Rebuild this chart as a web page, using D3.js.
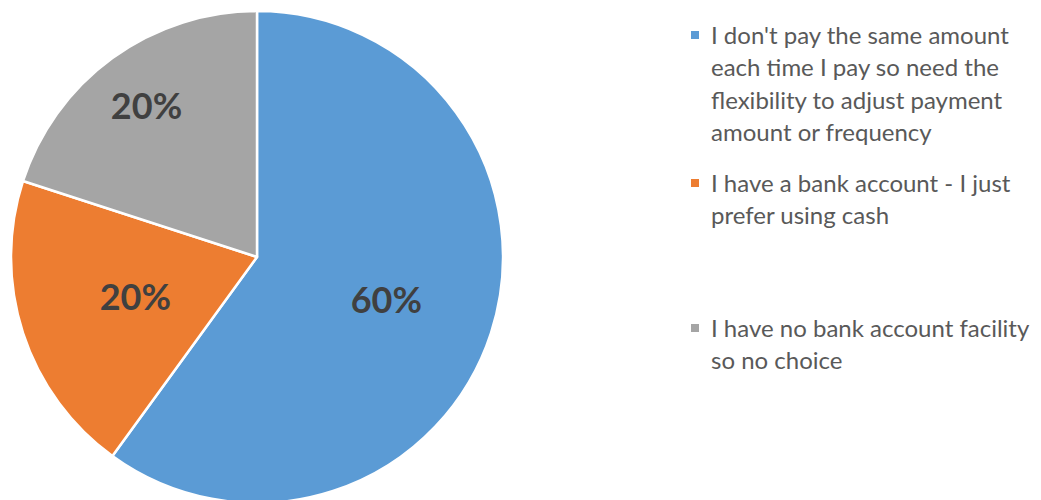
<!DOCTYPE html>
<html>
<head>
<meta charset="utf-8">
<script src="https://cdn.jsdelivr.net/npm/d3@7"></script>
<style>
  body { margin: 0; background: #fff; }
  svg { display: block; }
</style>
</head>
<body>
<div id="chart"></div>
<script>
// data
var categories = [
  ["I don't pay the same amount", "each time I pay so need the", "flexibility to adjust payment", "amount or frequency"],
  ["I have a bank account - I just", "prefer using cash"],
  ["I have no bank account facility", "so no choice"]
];
var shares = [60, 20, 20];
var sliceColors = ["#5b9bd5", "#ed7d31", "#a5a5a5"];

// layout
var w = 1041, h = 500;
var cx = 257, cy = 257, radius = 246;
// Excel's best-fit label distances from centre, per slice
var labelDist = [136, 128, 188];
var legendX = 691, legendTop = [35, 183, 328], lineH = 32.5;

var svg = d3.select("#chart").append("svg")
  .attr("width", w)
  .attr("height", h);

var pie = d3.pie().sort(null).value(function(d){ return d; });
var arcs = pie(shares);

var arc = d3.arc().innerRadius(0).outerRadius(radius);

var g = svg.append("g").attr("transform", "translate(" + cx + "," + cy + ")");

g.selectAll("path")
  .data(arcs)
  .enter().append("path")
  .attr("d", arc)
  .attr("fill", function(d, i){ return sliceColors[i]; })
  .attr("stroke", "#fff")
  .attr("stroke-width", 2.5)
  .attr("stroke-linejoin", "round");

g.selectAll("text.lbl")
  .data(arcs)
  .enter().append("text")
  .attr("class", "lbl")
  .attr("transform", function(d, i){
    var r = labelDist[i];
    return "translate(" + d3.arc().innerRadius(r).outerRadius(r).centroid(d) + ")";
  })
  .attr("text-anchor", "middle")
  .attr("dy", "0.38em")
  .attr("font-family", "Lato, 'Open Sans', sans-serif")
  .attr("font-weight", "bold")
  .attr("font-size", 36)
  .attr("fill", "#404040")
  .text(function(d){ return d.value + "%"; });

// legend
var leg = svg.selectAll("g.leg")
  .data(categories)
  .enter().append("g")
  .attr("class", "leg")
  .attr("transform", function(d, i){ return "translate(" + legendX + "," + legendTop[i] + ")"; });

leg.append("rect")
  .attr("x", 0).attr("y", -4)
  .attr("width", 8).attr("height", 8)
  .attr("fill", function(d, i){ return sliceColors[i]; });

leg.each(function(lines){
  var t = d3.select(this).append("text")
    .attr("font-family", "Lato, 'Open Sans', sans-serif")
    .attr("font-size", 24)
    .attr("fill", "#595959");
  lines.forEach(function(s, k){
    t.append("tspan")
      .attr("x", 20)
      .attr("y", k * lineH)
      .attr("dy", "0.36em")
      .text(s);
  });
});
</script>
</body>
</html>
